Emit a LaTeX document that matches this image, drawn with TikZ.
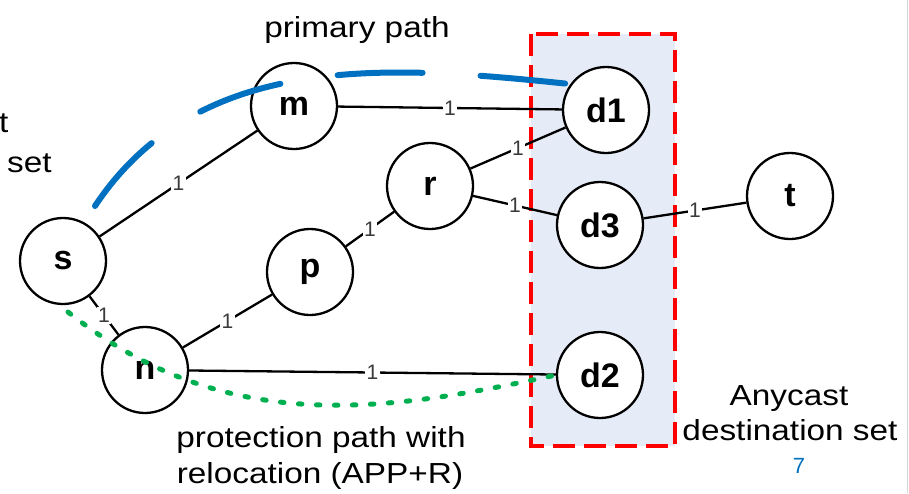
\documentclass[tikz,border=0pt]{standalone}
\usepackage{fontspec}
\setmainfont{Liberation Sans}
\newfontfamily\annfont{Liberation Sans}[FakeStretch=1.15]
\definecolor{pathblue}{HTML}{0070C0}
\definecolor{protgreen}{HTML}{00B050}
\definecolor{setfill}{HTML}{E6ECF7}
\definecolor{setred}{HTML}{FF0000}
\definecolor{wtgray}{HTML}{3A3A3A}
\definecolor{framegray}{HTML}{D4D4D4}
\begin{document}
\begin{tikzpicture}[x=1pt,y=-1pt,
  vertex/.style={circle,draw=black,line width=2.3pt,fill=white,minimum size=86pt,
    inner sep=0pt,font=\fontsize{34}{34}\selectfont\bfseries},
  link/.style={draw=black,line width=2.3pt},
  wt/.style={fill=white,inner sep=1.2pt,font=\fontsize{21}{21}\selectfont,text=wtgray},
  ann/.style={font=\annfont\fontsize{29}{29}\selectfont,anchor=base,inner sep=0pt},
  primary/.style={draw=pathblue,line width=6pt,line cap=round,dash pattern=on 85pt off 58pt},
  protection/.style={draw=protgreen,line width=5pt,line cap=round,dash pattern=on 3.5pt off 14.5pt}
]
\useasboundingbox (0,0) rectangle (909,493);
\fill[white] (0,0) rectangle (909,493);
\draw[framegray,line width=1.5pt] (907.5,0) -- (907.5,493);

% anycast destination set
\draw[setred,fill=setfill,line width=3.5pt,dash pattern=on 22pt off 9pt]
  (531,34) rectangle (675,446);

% nodes
\node[vertex] (s)  at (63,261)  {s};
\node[vertex] (m)  at (294,106) {m};
\node[vertex] (r)  at (430,186) {r};
\node[vertex] (p)  at (310,272) {p};
\node[vertex] (n)  at (145,370) {n};
\node[vertex] (d1) at (606,110) {d1};
\node[vertex] (d3) at (600,225) {d3};
\node[vertex] (d2) at (600,375) {d2};
\node[vertex] (t)  at (790,196) {t};

% weighted links
\draw[link] (s) -- node[wt]{1} (m);
\draw[link] (m) -- node[wt]{1} (d1);
\draw[link] (s) -- node[wt]{1} (n);
\draw[link] (n) -- node[wt]{1} (p);
\draw[link] (p) -- node[wt]{1} (r);
\draw[link] (r) -- node[wt]{1} (d1);
\draw[link] (r) -- node[wt]{1} (d3);
\draw[link] (n) -- node[wt]{1} (d2);
\draw[link] (d3) -- node[wt]{1} (t);

% primary path s -> d1
\coordinate (pstart) at (95,206);
\draw[primary] (pstart) .. controls (200,48) and (395,66) .. (d1.144);

% protection path s -> d2
\coordinate (gstart) at (68,312);
\draw[protection] (gstart) .. controls (224,436) and (381,413) .. (d2.west);

% annotations
\node[ann] (lblprim) at (357,37) {primary path};
\node[ann] (lblprot1) at (321,447) {protection path with};
\node[ann] (lblprot2) at (320,483) {relocation (APP+R)};
\node[ann] (lblany1) at (789,405) {Anycast};
\node[ann] (lblany2) at (790,440) {destination set};
\node[ann,anchor=base west] (lblleft1) at (-1,132) {t};
\node[ann,anchor=base west] (lblleft2) at (7,172) {set};
\node[anchor=base,inner sep=0pt,text=pathblue,font=\fontsize{22}{22}\selectfont] (pagenum) at (799,473) {7};
\end{tikzpicture}
\end{document}
